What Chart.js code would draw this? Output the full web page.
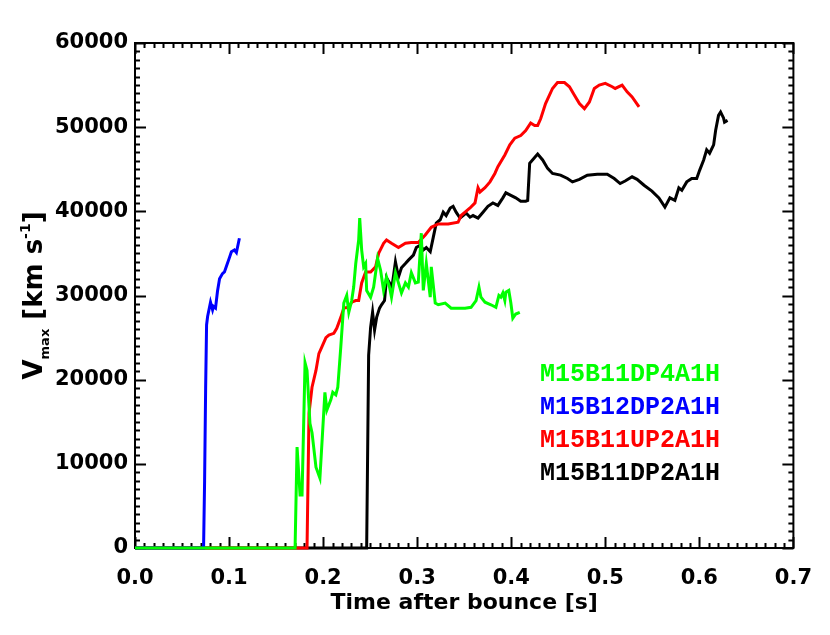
<!DOCTYPE html>
<html>
<head>
<meta charset="utf-8">
<script src="https://cdn.jsdelivr.net/npm/chart.js@4.4.0/dist/chart.umd.min.js"></script>
<style>
  html, body { margin: 0; padding: 0; background: #fff; }
  #wrap { width: 830px; height: 635px; }
</style>
</head>
<body>
<div id="wrap"><canvas id="vmax"></canvas></div>
<script>
// time after bounce [s] and Vmax [km/s] for each model
const greenT = [0, 0.1702, 0.1723, 0.1755, 0.1776, 0.1808, 0.1829, 0.1860, 0.1882, 0.1924, 0.1966, 0.2019, 0.2040, 0.2082, 0.2103, 0.2135, 0.2156, 0.2188, 0.2220, 0.2251, 0.2273, 0.2304, 0.2325, 0.2347, 0.2378, 0.2389, 0.2410, 0.2431, 0.2452, 0.2463, 0.2505, 0.2537, 0.2579, 0.2611, 0.2643, 0.2674, 0.2706, 0.2727, 0.2769, 0.2801, 0.2833, 0.2875, 0.2907, 0.2938, 0.2981, 0.3012, 0.3044, 0.3065, 0.3097, 0.3139, 0.3150, 0.3192, 0.3224, 0.3298, 0.3361, 0.3435, 0.3509, 0.3573, 0.3626, 0.3657, 0.3678, 0.3721, 0.3784, 0.3837, 0.3869, 0.3890, 0.3911, 0.3932, 0.3943, 0.3974, 0.3996, 0.4017, 0.4048, 0.4091];
const greenV = [0, 0, 12000, 6300, 6300, 22000, 21100, 14800, 13700, 9600, 8300, 18500, 16400, 17600, 18500, 18200, 19100, 23900, 29100, 30000, 28000, 29400, 31000, 33800, 36600, 39200, 35400, 33400, 33800, 30600, 29800, 31000, 34400, 33000, 30600, 32200, 31000, 29800, 32700, 31500, 30300, 31500, 31000, 32700, 31500, 31600, 37400, 30600, 33800, 29800, 33400, 29100, 28900, 29100, 28500, 28500, 28500, 28600, 29400, 31000, 29800, 29200, 28900, 28600, 30000, 29800, 30300, 29400, 30400, 30600, 29100, 27300, 27800, 28000];

const blueT = [0, 0.0729, 0.0740, 0.0751, 0.0761, 0.0772, 0.0803, 0.0825, 0.0835, 0.0856, 0.0877, 0.0899, 0.0930, 0.0951, 0.0973, 0.1004, 0.1025, 0.1057, 0.1078, 0.1110];
const blueV = [0, 0, 8000, 19000, 26500, 27500, 29200, 28300, 28700, 28500, 30500, 32000, 32600, 32800, 33500, 34500, 35200, 35400, 35100, 36800];

const redT = [0, 0.1829, 0.1850, 0.1882, 0.1924, 0.1955, 0.1987, 0.2030, 0.2061, 0.2114, 0.2145, 0.2188, 0.2220, 0.2273, 0.2304, 0.2347, 0.2378, 0.2410, 0.2452, 0.2505, 0.2558, 0.2590, 0.2643, 0.2674, 0.2727, 0.2801, 0.2875, 0.2938, 0.3012, 0.3086, 0.3150, 0.3224, 0.3330, 0.3435, 0.3467, 0.3509, 0.3562, 0.3615, 0.3647, 0.3668, 0.3721, 0.3774, 0.3826, 0.3858, 0.3932, 0.3985, 0.4038, 0.4101, 0.4154, 0.4207, 0.4249, 0.4281, 0.4313, 0.4365, 0.4439, 0.4492, 0.4566, 0.4619, 0.4672, 0.4725, 0.4778, 0.4831, 0.4883, 0.4936, 0.5000, 0.5074, 0.5105, 0.5179, 0.5232, 0.5285, 0.5359];
const redV = [0, 0, 16000, 19100, 21100, 23100, 23900, 25000, 25300, 25500, 26100, 27400, 28500, 28600, 29200, 29400, 29400, 31500, 32800, 32800, 33400, 35000, 36200, 36600, 36200, 35700, 36200, 36300, 36300, 37200, 38100, 38500, 38500, 38700, 39500, 39900, 40400, 41000, 42800, 42300, 42800, 43500, 44500, 45300, 46700, 47900, 48700, 49000, 49600, 50500, 50200, 50200, 51000, 52800, 54600, 55300, 55300, 54800, 53800, 52800, 52200, 53000, 54600, 55000, 55200, 54800, 54600, 55000, 54200, 53600, 52400];

const blackT = [0, 0.2463, 0.2484, 0.2505, 0.2526, 0.2547, 0.2569, 0.2600, 0.2621, 0.2653, 0.2674, 0.2706, 0.2727, 0.2769, 0.2801, 0.2833, 0.2875, 0.2907, 0.2960, 0.2991, 0.3034, 0.3065, 0.3097, 0.3139, 0.3171, 0.3203, 0.3245, 0.3277, 0.3308, 0.3351, 0.3382, 0.3414, 0.3456, 0.3488, 0.3520, 0.3562, 0.3594, 0.3647, 0.3700, 0.3752, 0.3805, 0.3858, 0.3911, 0.3943, 0.3996, 0.4048, 0.4101, 0.4154, 0.4175, 0.4196, 0.4249, 0.4281, 0.4334, 0.4387, 0.4439, 0.4524, 0.4598, 0.4651, 0.4725, 0.4809, 0.4915, 0.5021, 0.5095, 0.5158, 0.5211, 0.5285, 0.5338, 0.5412, 0.5496, 0.5570, 0.5634, 0.5687, 0.5740, 0.5782, 0.5814, 0.5866, 0.5919, 0.5972, 0.6004, 0.6046, 0.6078, 0.6109, 0.6152, 0.6173, 0.6204, 0.6226, 0.6257, 0.6268, 0.6300];
const blackV = [0, 0, 22900, 26200, 28000, 25900, 27400, 28500, 28900, 29400, 32100, 31500, 30600, 34000, 32200, 33300, 33800, 34200, 34800, 35700, 36000, 35400, 35700, 35200, 36900, 38600, 39000, 39900, 39500, 40400, 40600, 39900, 39200, 39500, 39800, 39300, 39500, 39200, 39900, 40600, 41000, 40700, 41600, 42200, 41900, 41600, 41200, 41200, 41300, 45700, 46400, 46800, 46100, 45100, 44500, 44300, 43900, 43500, 43800, 44300, 44400, 44400, 43900, 43300, 43600, 44100, 43800, 43100, 42400, 41600, 40500, 41600, 41300, 42800, 42500, 43500, 43900, 43900, 44900, 46100, 47300, 46900, 47900, 49600, 51400, 51800, 51100, 50600, 50800];

const modelNames = ['M15B11DP4A1H', 'M15B12DP2A1H', 'M15B11UP2A1H', 'M15B11DP2A1H'];
const modelColors = ['#00ff00', '#0000ff', '#ff0000', '#000000'];
const xTicks = [0.0, 0.1, 0.2, 0.3, 0.4, 0.5, 0.6, 0.7];
const yTicks = [0, 10000, 20000, 30000, 40000, 50000, 60000];

function toPoints(ts, vs) {
    return ts.map((t, i) => ({ x: t, y: vs[i] }));
}

const seriesT = [greenT, blueT, redT, blackT];
const seriesV = [greenV, blueV, redV, blackV];

// IDL style frame with inward ticks on all four sides (drawn under the curves)
const idlFrame = {
    id: 'idlFrame',
    beforeDatasetsDraw(chart) {
        const ctx = chart.ctx;
        const a = chart.chartArea;
        const xs = chart.scales.x;
        const ys = chart.scales.y;
        ctx.save();
        ctx.strokeStyle = '#000';
        ctx.lineWidth = 2;
        ctx.strokeRect(a.left, a.top, a.right - a.left, a.bottom - a.top);

        ctx.beginPath();
        for (let i = 0; i <= 70; i++) {
            const px = Math.round(xs.getPixelForValue(i / 100)) + 0.5;
            const len = i % 10 === 0 ? 11 : 5;
            ctx.moveTo(px, a.bottom); ctx.lineTo(px, a.bottom - len);
            ctx.moveTo(px, a.top); ctx.lineTo(px, a.top + len);
        }
        for (let i = 0; i <= 60; i++) {
            const py = Math.round(ys.getPixelForValue(i * 1000)) + 0.5;
            const len = i % 10 === 0 ? 11 : 5;
            ctx.moveTo(a.left, py); ctx.lineTo(a.left + len, py);
            ctx.moveTo(a.right, py); ctx.lineTo(a.right - len, py);
        }
        ctx.stroke();
        ctx.restore();
    },
    afterDraw(chart) {
        const ctx = chart.ctx;
        const a = chart.chartArea;
        ctx.save();

        // x axis title
        ctx.fillStyle = '#000';
        ctx.font = 'bold 22px "DejaVu Sans"';
        ctx.textAlign = 'center';
        ctx.textBaseline = 'middle';
        ctx.fillText('Time after bounce [s]', (a.left + a.right) / 2, a.bottom + 55);

        // y axis title with subscript and superscript
        const parts = [
            { t: 'V', f: 'bold 26px "DejaVu Sans"', dy: 0 },
            { t: 'max', f: 'bold 13px "DejaVu Sans"', dy: 7 },
            { t: ' [km s', f: 'bold 26px "DejaVu Sans"', dy: 0 },
            { t: '-1', f: 'bold 14px "DejaVu Sans"', dy: -12 },
            { t: ']', f: 'bold 26px "DejaVu Sans"', dy: 0 }
        ];
        let total = 0;
        parts.forEach(p => { ctx.font = p.f; p.w = ctx.measureText(p.t).width; total += p.w; });
        ctx.translate(42, (a.top + a.bottom) / 2);
        ctx.rotate(-Math.PI / 2);
        ctx.textAlign = 'left';
        ctx.textBaseline = 'alphabetic';
        let cx = -total / 2;
        parts.forEach(p => {
            ctx.font = p.f;
            ctx.fillText(p.t, cx, p.dy);
            cx += p.w;
        });
        ctx.setTransform(1, 0, 0, 1, 0, 0);

        // legend
        ctx.font = 'bold 25px "Liberation Mono", "Courier New", monospace';
        ctx.textAlign = 'left';
        ctx.textBaseline = 'middle';
        modelNames.forEach((name, i) => {
            ctx.fillStyle = modelColors[i];
            ctx.fillText(name, 540, 375 + i * 33);
        });
        ctx.restore();
    }
};

new Chart(document.getElementById('vmax'), {
    type: 'line',
    data: {
        datasets: modelNames.map((name, i) => ({
            label: name,
            data: toPoints(seriesT[i], seriesV[i]),
            borderColor: modelColors[i],
            backgroundColor: modelColors[i],
            borderWidth: 3,
            pointRadius: 0,
            tension: 0,
            fill: false,
            clip: false
        }))
    },
    options: {
        responsive: true,
        maintainAspectRatio: false,
        animation: false,
        layout: { padding: { left: 0, top: 43, right: 33, bottom: 0 } },
        plugins: {
            legend: { display: false },
            tooltip: { enabled: false }
        },
        scales: {
            x: {
                type: 'linear',
                min: 0,
                max: 0.7,
                afterBuildTicks: s => { s.ticks = xTicks.map(v => ({ value: v })); },
                afterFit: s => { s.height = 87; },
                grid: { display: false, drawTicks: false },
                border: { display: false },
                ticks: {
                    color: '#000',
                    font: { family: 'DejaVu Sans', size: 21, weight: 'bold' },
                    padding: 18,
                    maxRotation: 0,
                    callback: v => v.toFixed(1)
                }
            },
            y: {
                type: 'linear',
                min: 0,
                max: 60000,
                afterBuildTicks: s => { s.ticks = yTicks.map(v => ({ value: v })); },
                afterFit: s => { s.width = 135; },
                grid: { display: false, drawTicks: false },
                border: { display: false },
                ticks: {
                    color: '#000',
                    font: { family: 'DejaVu Sans', size: 21, weight: 'bold' },
                    padding: 7,
                    callback: v => String(v)
                }
            }
        }
    },
    plugins: [idlFrame]
});
</script>
</body>
</html>
